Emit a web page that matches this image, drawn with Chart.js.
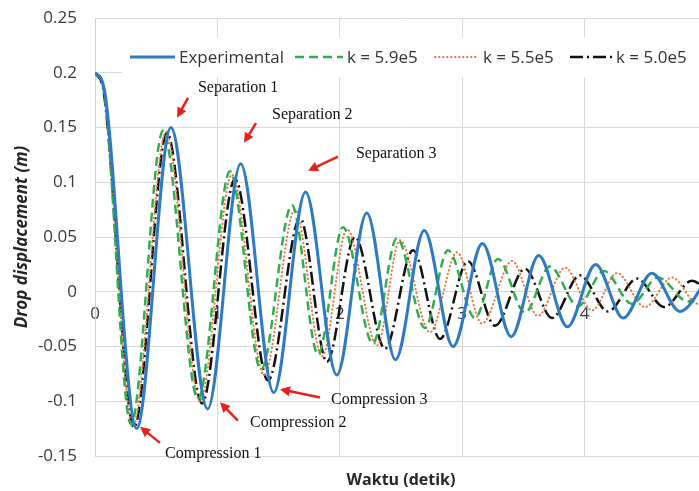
<!DOCTYPE html>
<html lang="en">
<head>
<meta charset="UTF-8">
<title>Drop displacement</title>
<script src="https://cdn.jsdelivr.net/npm/chart.js"></script>
<style>
  html, body { margin: 0; padding: 0; background: #fff; overflow: hidden; }
  #chart { display: block; }
</style>
</head>
<body>
<canvas id="chart" width="720" height="491"></canvas>
<script>
// turning points of each curve (time in s, displacement in m)
const expT = [0, 0.07, 0.34, 0.62, 0.92, 1.19, 1.46, 1.72, 1.975, 2.22, 2.455, 2.69, 2.925, 3.165, 3.40, 3.625, 3.86, 4.09, 4.315, 4.55, 4.78, 5.0];
const expV = [0.2, 0.188, -0.125, 0.150, -0.107, 0.117, -0.092, 0.091, -0.076, 0.072, -0.062, 0.056, -0.050, 0.044, -0.041, 0.033, -0.032, 0.025, -0.024, 0.017, -0.018, 0.011];

const k59T = [0, 0.07, 0.294, 0.556, 0.842, 1.103, 1.356, 1.609, 1.822, 2.026, 2.270, 2.467, 2.696, 2.884, 3.105, 3.292, 3.513, 3.717, 3.946, 4.158, 4.386, 4.600, 4.845, 5.0];
const k59V = [0.2, 0.185, -0.121, 0.147, -0.098, 0.110, -0.071, 0.079, -0.057, 0.059, -0.047, 0.049, -0.033, 0.038, -0.024, 0.030, -0.019, 0.023, -0.013, 0.019, -0.011, 0.013, -0.009, 0.006];

const k55T = [0, 0.07, 0.310, 0.580, 0.858, 1.119, 1.381, 1.634, 1.855, 2.059, 2.304, 2.492, 2.737, 2.958, 3.162, 3.407, 3.619, 3.840, 4.060, 4.265, 4.493, 4.714, 4.926, 5.0];
const k55V = [0.2, 0.185, -0.123, 0.146, -0.100, 0.107, -0.076, 0.075, -0.059, 0.057, -0.049, 0.047, -0.037, 0.036, -0.029, 0.028, -0.022, 0.022, -0.017, 0.017, -0.014, 0.013, -0.011, -0.006];

const k50T = [0, 0.07, 0.319, 0.588, 0.874, 1.144, 1.413, 1.675, 1.895, 2.124, 2.369, 2.598, 2.819, 3.047, 3.268, 3.513, 3.734, 3.962, 4.191, 4.428, 4.649, 4.877, 5.0];
const k50V = [0.2, 0.183, -0.124, 0.145, -0.102, 0.103, -0.081, 0.067, -0.064, 0.050, -0.052, 0.038, -0.043, 0.028, -0.031, 0.021, -0.024, 0.015, -0.018, 0.012, -0.014, 0.010, 0.002];

const seriesNames = ['Experimental', 'k = 5.9e5', 'k = 5.5e5', 'k = 5.0e5'];
const xTicks = [0, 1, 2, 3, 4];
const yTicks = [-0.15, -0.1, -0.05, 0, 0.05, 0.1, 0.15, 0.2, 0.25];

// callouts: text anchor and arrow tail -> head, in data units
const notes = [
    { text: 'Separation 1', at: [0.841, 0.186], from: [0.760, 0.177], to: [0.670, 0.159] },
    { text: 'Separation 2', at: [1.446, 0.162], from: [1.315, 0.154], to: [1.217, 0.136] },
    { text: 'Separation 3', at: [2.132, 0.126], from: [1.985, 0.1234], to: [1.740, 0.1105] },
    { text: 'Compression 1', at: [0.572, -0.148], from: [0.531, -0.138], to: [0.368, -0.1234] },
    { text: 'Compression 2', at: [1.266, -0.1195], from: [1.168, -0.1177], to: [1.021, -0.101] },
    { text: 'Compression 3', at: [1.928, -0.0983], from: [1.838, -0.0966], to: [1.511, -0.089] }
];

const FONT = '"Open Sans", "Liberation Sans", sans-serif';
const styles = [
    { color: '#2e7bc4', width: 3, dash: [] },
    { color: '#2fae4e', width: 2.5, dash: [9, 5] },
    { color: '#e07a3f', width: 2, dash: [0.5, 3.5], cap: 'round' },
    { color: '#111111', width: 2.5, dash: [13, 4, 2, 4] }
];

function points(ts, vs) {
    return ts.map((t, i) => ({ x: t, y: vs[i] }));
}

const seriesData = [points(expT, expV), points(k59T, k59V), points(k55T, k55V), points(k50T, k50V)];

const extras = {
    id: 'extras',
    afterDatasetsDraw(chart) {
        const { ctx, scales: { x, y } } = chart;
        ctx.save();

        // legend sits inside the plot on a white box
        ctx.fillStyle = '#ffffff';
        ctx.fillRect(122, 37, 600, 40);
        const lx = [130, 295, 435, 570];
        const lw = [45, 48, 42, 43];
        const tx = [179, 347, 483, 616];
        const ly = 57;
        ctx.font = '17px ' + FONT;
        ctx.textBaseline = 'middle';
        ctx.textAlign = 'left';
        styles.forEach((s, i) => {
            ctx.beginPath();
            ctx.strokeStyle = s.color;
            ctx.lineWidth = s.width;
            ctx.lineCap = s.cap || 'butt';
            ctx.setLineDash(s.dash);
            ctx.moveTo(lx[i], ly);
            ctx.lineTo(lx[i] + lw[i], ly);
            ctx.stroke();
            ctx.fillStyle = '#333333';
            ctx.fillText(seriesNames[i], tx[i], ly + 1);
        });
        ctx.setLineDash([]);
        ctx.lineCap = 'butt';

        // red callout arrows and labels
        ctx.font = '16px "Liberation Serif", "Times New Roman", serif';
        notes.forEach(n => {
            const x0 = x.getPixelForValue(n.from[0]), y0 = y.getPixelForValue(n.from[1]);
            const x1 = x.getPixelForValue(n.to[0]), y1 = y.getPixelForValue(n.to[1]);
            const ang = Math.atan2(y1 - y0, x1 - x0);
            const head = 10;
            ctx.strokeStyle = '#e8221b';
            ctx.fillStyle = '#e8221b';
            ctx.lineWidth = 2.5;
            ctx.beginPath();
            ctx.moveTo(x0, y0);
            ctx.lineTo(x1 - Math.cos(ang) * head * 0.8, y1 - Math.sin(ang) * head * 0.8);
            ctx.stroke();
            ctx.beginPath();
            ctx.moveTo(x1, y1);
            ctx.lineTo(x1 - head * Math.cos(ang) + 5 * Math.sin(ang), y1 - head * Math.sin(ang) - 5 * Math.cos(ang));
            ctx.lineTo(x1 - head * Math.cos(ang) - 5 * Math.sin(ang), y1 - head * Math.sin(ang) + 5 * Math.cos(ang));
            ctx.closePath();
            ctx.fill();

            ctx.fillStyle = '#111111';
            ctx.fillText(n.text, x.getPixelForValue(n.at[0]), y.getPixelForValue(n.at[1]));
        });
        ctx.restore();
    }
};

new Chart(document.getElementById('chart'), {
    type: 'line',
    data: {
        datasets: seriesData.map((d, i) => ({
            label: seriesNames[i],
            data: d,
            borderColor: styles[i].color,
            borderWidth: styles[i].width,
            borderDash: styles[i].dash,
            borderCapStyle: styles[i].cap || 'butt',
            pointRadius: 0,
            fill: false,
            cubicInterpolationMode: 'monotone'
        }))
    },
    options: {
        responsive: false,
        animation: false,
        devicePixelRatio: 1,
        layout: { padding: { top: 18, right: 13, left: 0, bottom: 0 } },
        plugins: {
            legend: { display: false },
            tooltip: { enabled: false }
        },
        scales: {
            x: {
                type: 'linear',
                min: 0,
                max: 5,
                ticks: { display: false, stepSize: 1 },
                grid: { color: '#d9d9d9', drawTicks: false },
                border: { color: '#d9d9d9' },
                title: {
                    display: true,
                    text: 'Waktu (detik)',
                    color: '#262626',
                    font: { family: FONT, size: 16, weight: 'bold' },
                    padding: { top: 0, bottom: 1 }
                },
                afterFit(s) { s.height = 35; s.paddingLeft = 0; s.paddingRight = 0; }
            },
            x2: {
                type: 'linear',
                axis: 'x',
                position: { y: 0 },
                min: 0,
                max: 5,
                grid: { display: false, drawTicks: false },
                border: { display: false },
                afterBuildTicks(s) { s.ticks = xTicks.map(v => ({ value: v })); },
                afterFit(s) { s.paddingLeft = 0; s.paddingRight = 0; s.paddingTop = 0; s.paddingBottom = 0; },
                ticks: {
                    color: '#3a3a3a',
                    padding: 12,
                    font: { family: FONT, size: 17 }
                }
            },
            y: {
                type: 'linear',
                min: -0.15,
                max: 0.25,
                afterBuildTicks(s) { s.ticks = yTicks.map(v => ({ value: v })); },
                ticks: {
                    color: '#3a3a3a',
                    padding: 18,
                    font: { family: FONT, size: 17 },
                    callback: v => String(Math.round(v * 100) / 100)
                },
                grid: { color: '#d9d9d9', drawTicks: false },
                border: { color: '#d0d0d0' },
                title: {
                    display: true,
                    text: 'Drop displacement (m)',
                    color: '#262626',
                    font: { family: FONT, size: 17, weight: 'bold', style: 'italic' },
                    padding: { top: 12, bottom: 0 }
                },
                afterFit(s) { s.width = 95; s.paddingTop = 0; s.paddingBottom = 0; }
            }
        }
    },
    plugins: [extras]
});
</script>
</body>
</html>
